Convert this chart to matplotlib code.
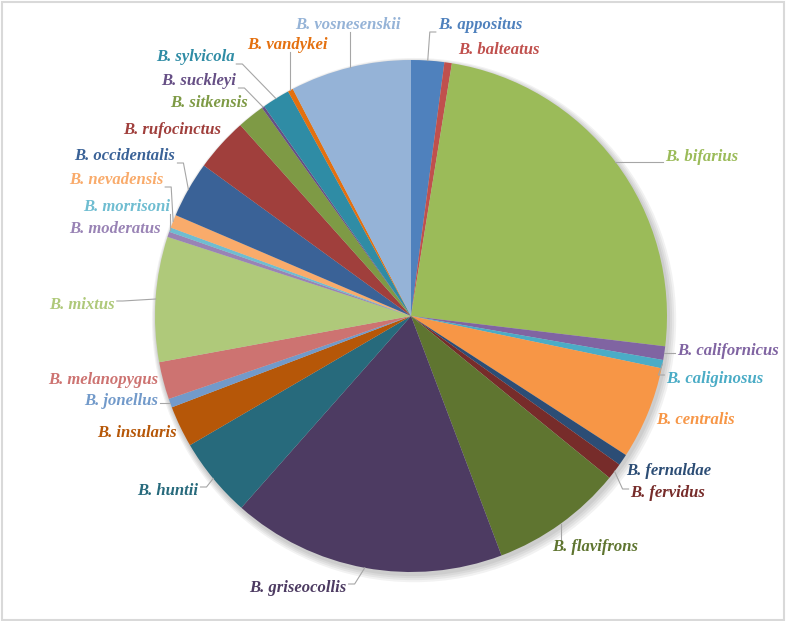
import numpy as np
import matplotlib
matplotlib.use("Agg")
import matplotlib.pyplot as plt
from matplotlib.patches import Circle, Rectangle

# ---- data (slice sizes, relative units) ----
species = ["B. appositus", "B. balteatus", "B. bifarius", "B. californicus",
           "B. caliginosus", "B. centralis", "B. fernaldae", "B. fervidus",
           "B. flavifrons", "B. griseocollis", "B. huntii", "B. insularis",
           "B. jonellus", "B. melanopygus", "B. mixtus", "B. moderatus",
           "B. morrisoni", "B. nevadensis", "B. occidentalis", "B. rufocinctus",
           "B. sitkensis", "B. suckleyi", "B. sylvicola", "B. vandykei",
           "B. vosnesenskii"]
values = [7.5, 1.7, 87.6, 3.1, 1.9, 21.1, 2.6, 3.7, 30.1, 62.2, 18.2, 9.4,
          2.0, 8.5, 28.4, 1.2, 1.0, 3.0, 12.8, 12.2, 6.2, 0.6, 6.3, 1.2, 27.5]

colors = ["#4F81BD", "#C0504D", "#9BBB59", "#8064A2", "#4BACC6", "#F79646",
          "#2C4D75", "#772C2A", "#5F7530", "#4D3B62", "#276A7C", "#B65708",
          "#729ACA", "#CD7371", "#AFC97A", "#9983B5", "#6FBDD1", "#F9AB6B",
          "#3A6297", "#A03F3C", "#7E9A45", "#664F85", "#2F8CA5", "#E4700F",
          "#95B3D7"]

# label centres in pixel coordinates of the 786x621 canvas (layout)
label_px = [(480, 25), (499, 50), (702, 157), (728, 351), (715, 379),
            (695, 420), (669, 471), (668, 493), (595, 547), (298, 588),
            (168, 491), (137, 433), (121, 401), (103, 380), (82, 305),
            (115, 229), (127, 207), (116, 180), (125, 156), (172, 130),
            (209, 103), (199, 81), (195, 57), (287, 45), (348, 25)]

W, H = 786, 621
CX, CY, R = 411, 316, 256


def to_data(px, py):
    return (px - CX) / R, (CY - py) / R


fig = plt.figure(figsize=(W / 100, H / 100), dpi=100)
ax = fig.add_axes([0, 0, 1, 1])

# soft shadow
for i in range(4):
    ax.add_patch(Circle((0.006 + 0.002 * i, -0.01 - 0.002 * i), 1.0 + 0.006 * (i + 1),
                        color="#000000", alpha=0.05, lw=0, zorder=0))

wedges, _ = ax.pie(values, colors=colors, startangle=90, counterclock=False,
                   radius=1.0, center=(0, 0), frame=True,
                   wedgeprops=dict(linewidth=0, zorder=1))
ax.set_xlim(to_data(0, 0)[0], to_data(W, 0)[0])
ax.set_ylim(to_data(0, H)[1], to_data(0, 0)[1])
ax.set_aspect("equal")
ax.axis("off")

texts = []
for name, col, (px, py) in zip(species, colors, label_px):
    x, y = to_data(px, py)
    t = ax.text(x, y, name, color=col, ha="center", va="center",
                fontsize=12, fontweight="bold", fontstyle="italic",
                family="Liberation Serif", zorder=3)
    texts.append(t)

fig.canvas.draw()
renderer = fig.canvas.get_renderer()
inv = ax.transData.inverted()

for w, t in zip(wedges, texts):
    mid = np.deg2rad((w.theta1 + w.theta2) / 2)
    ex, ey = np.cos(mid), np.sin(mid)
    bb = t.get_window_extent(renderer)
    (x0, y0), (x1, y1) = inv.transform([(bb.x0 - 2, bb.y0 + 1), (bb.x1 + 2, bb.y1 - 4)])
    nx = min(max(ex, x0), x1)
    ny = min(max(ey, y0), y1)
    dist = np.hypot(nx - ex, ny - ey) * R
    if dist < 10:
        continue
    pts = [(ex, ey)]
    if nx in (x0, x1):
        side = -1 if nx == x0 else 1
        pts.append((nx + side * 6 / R, ny))
    pts.append((nx, ny))
    xs, ys = zip(*pts)
    ax.plot(xs, ys, color="#A6A6A6", lw=0.8, zorder=2)

# outer frame
fig.patches.append(Rectangle((0.002, 0.002), 0.996, 0.995, transform=fig.transFigure,
                             fill=False, edgecolor="#D9D9D9", lw=1.5))

fig.savefig("out.png", dpi=100)
